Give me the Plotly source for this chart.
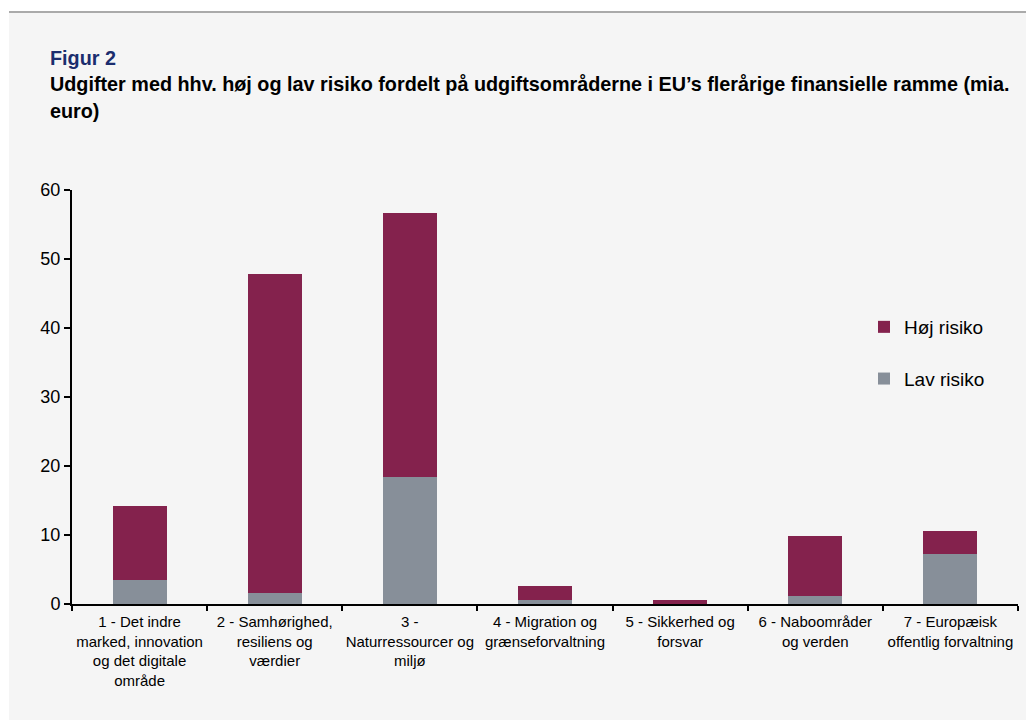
import plotly.graph_objects as go

categories = [
    "1 - Det indre<br>marked, innovation<br>og det digitale<br>område",
    "2 - Samhørighed,<br>resiliens og<br>værdier",
    "3 -<br>Naturressourcer og<br>miljø",
    "4 - Migration og<br>grænseforvaltning",
    "5 - Sikkerhed og<br>forsvar",
    "6 - Naboområder<br>og verden",
    "7 - Europæisk<br>offentlig forvaltning",
]
lav_risiko = [3.45, 1.55, 18.35, 0.6, 0.05, 1.15, 7.25]
hoej_risiko = [10.8, 46.3, 38.25, 2.0, 0.5, 8.75, 3.35]
y_ticks = [0, 10, 20, 30, 40, 50, 60]

FONT = "Liberation Sans, Arial, sans-serif"
C_HOEJ = "#84224d"
C_LAV = "#878f99"

OFF = 8  # page body margin
W, H = 1034, 720
# target page pixel geometry of plot area
PL, PR, PT, PB = 72, 1018, 190, 604
L, T = PL - OFF, PT - OFF
R = W - (PR - OFF)
B = H - (PB - OFF)
pw, ph = W - L - R, H - T - B

def px_x(x):  # page pixel -> paper
    return (x - OFF - L) / pw

def px_y(y):
    return (H - B - (y - OFF)) / ph

fig = go.Figure()
fig.add_trace(go.Bar(x=categories, y=lav_risiko, name="Lav risiko",
                     marker=dict(color=C_LAV, line=dict(width=0)),
                     legendgroup="lav", legendrank=2))
fig.add_trace(go.Bar(x=categories, y=hoej_risiko, name="Høj risiko",
                     marker=dict(color=C_HOEJ, line=dict(width=0)),
                     legendgroup="hoej", legendrank=1))

shapes = [
    dict(type="rect", xref="paper", yref="paper", layer="below",
         x0=px_x(9), x1=px_x(1060), y0=px_y(760), y1=px_y(12),
         fillcolor="#f5f5f5", line=dict(width=0)),
    dict(type="line", xref="paper", yref="paper", layer="below",
         x0=px_x(9), x1=px_x(1060), y0=px_y(12), y1=px_y(12),
         line=dict(color="#aaaaaa", width=2)),
]

annotations = [
    dict(text="<b>Figur 2</b>", xref="paper", yref="paper",
         x=px_x(48), y=px_y(58), xanchor="left", yanchor="middle",
         showarrow=False, font=dict(family=FONT, size=19.8, color="#1b2d6e")),
    dict(text="<b>Udgifter med hhv. høj og lav risiko fordelt på udgiftsområderne i EU’s flerårige finansielle ramme (mia.</b>",
         xref="paper", yref="paper",
         x=px_x(48), y=px_y(84), xanchor="left", yanchor="middle",
         showarrow=False, font=dict(family=FONT, size=19.8, color="#000000")),
    dict(text="<b>euro)</b>", xref="paper", yref="paper",
         x=px_x(48), y=px_y(111), xanchor="left", yanchor="middle",
         showarrow=False, font=dict(family=FONT, size=19.8, color="#000000")),
]

fig.update_layout(
    width=W, height=H,
    margin=dict(l=L, r=R, t=T, b=B, pad=0),
    paper_bgcolor="#ffffff",
    plot_bgcolor="rgba(0,0,0,0)",
    barmode="stack",
    bargap=0.6,
    font=dict(family=FONT, color="#000000"),
    showlegend=True,
    legend=dict(x=px_x(864), y=px_y(308), xanchor="left", yanchor="top",
                traceorder="grouped", tracegroupgap=24,
                itemwidth=30, bgcolor="rgba(0,0,0,0)",
                font=dict(family=FONT, size=19, color="#000000")),
    shapes=shapes,
    annotations=annotations,
    xaxis=dict(
        type="category", showgrid=False, zeroline=False,
        showline=True, linecolor="#000000", linewidth=2,
        ticks="outside", tickson="boundaries", ticklen=5, tickwidth=2,
        tickcolor="#000000", tickfont=dict(family=FONT, size=15, color="#000000"),
        tickangle=0, ticklabelstandoff=3,
    ),
    yaxis=dict(
        range=[0, 60], tickvals=y_ticks, showgrid=False, zeroline=False,
        showline=True, linecolor="#000000", linewidth=2,
        ticks="outside", ticklen=6, tickwidth=2, tickcolor="#000000",
        tickfont=dict(family=FONT, size=18, color="#000000"),
    ),
)

fig.write_html("out.html")
